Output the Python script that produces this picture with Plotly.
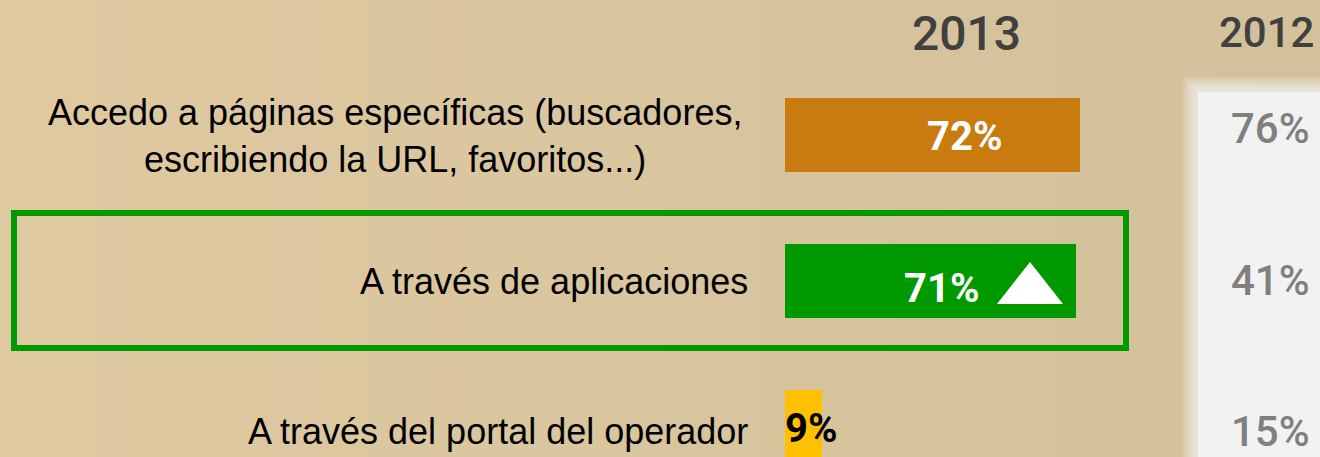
import plotly.graph_objects as go

# ---------------- data ----------------
categories = [
    "Accedo a páginas específicas (buscadores,<br>escribiendo la URL, favoritos...)",
    "A través de aplicaciones",
    "A través del portal del operador",
]
values_2013 = [72, 71, 9]
values_2012 = [76, 41, 15]
year_labels = ["2013", "2012"]
bar_colors = ["#c97b10", "#009900", "#ffc000"]
bar_text_colors = ["white", "white", "black"]

# ---------------- geometry helpers ----------------
W, H = 1320, 457
PX_PER_PCT = 4.1
X0_PX = 785          # pixel where value 0 sits
ROW0_PX, ROW_STEP = 135, 146

def px(xp):  # pixel -> paper x
    return xp / W

def py(yp):  # pixel -> paper y
    return 1 - yp / H

xr = [-X0_PX / PX_PER_PCT, (W - X0_PX) / PX_PER_PCT]
yr = [(H - ROW0_PX) / ROW_STEP, -ROW0_PX / ROW_STEP]

idx = list(range(len(categories)))

fig = go.Figure()
fig.add_trace(go.Bar(
    x=values_2013, y=idx, base=0, orientation="h",
    marker=dict(color=bar_colors, line=dict(width=0)),
    width=74 / ROW_STEP, hoverinfo="skip", showlegend=False,
))

shapes = []
# background gradient strips
c_left = (223, 201, 161)
c_right = (210, 193, 155)
N = 40
for i in range(N):
    t = i / (N - 1)
    c = tuple(int(round(c_left[k] + (c_right[k] - c_left[k]) * t)) for k in range(3))
    shapes.append(dict(type="rect", xref="paper", yref="paper", x0=i / N, x1=(i + 1) / N + 0.002,
                       y0=0, y1=1, fillcolor="rgb(%d,%d,%d)" % c, line=dict(width=0), layer="below"))

# right light panel with soft edge
for k in range(8):
    off = 12 - 2 * k
    shapes.append(dict(type="rect", xref="paper", yref="paper",
                       x0=px(1195 - off), x1=1.01, y0=-0.01, y1=py(89 - off),
                       fillcolor="rgba(242,242,242,0.16)", line=dict(width=0), layer="below"))
shapes.append(dict(type="rect", xref="paper", yref="paper",
                   x0=px(1198), x1=1.01, y0=-0.01, y1=py(92),
                   fillcolor="#f2f2f2", line=dict(width=0), layer="below"))

# green highlight frame
shapes.append(dict(type="rect", xref="paper", yref="paper",
                   x0=px(14), x1=px(1126), y0=py(348), y1=py(213),
                   line=dict(color="#009900", width=6), fillcolor="rgba(0,0,0,0)"))

# white up-triangle in the green bar
tri = "M %f %f L %f %f L %f %f Z" % (px(997), py(304), px(1063), py(304), px(1030), py(262))
shapes.append(dict(type="path", xref="paper", yref="paper", path=tri,
                   fillcolor="white", line=dict(width=0)))

annotations = []
LABEL_FONT = "Liberation Sans, Arial, sans-serif"
NUM_FONT = "Roboto, Arial, sans-serif"

# category labels
label_cfg = [dict(x=-390 / PX_PER_PCT, xanchor="center", align="center", yshift=-1),
             dict(x=-35 / PX_PER_PCT, xanchor="right", align="right", yshift=0),
             dict(x=-35 / PX_PER_PCT, xanchor="right", align="right", yshift=-4)]
for i, cat in enumerate(categories):
    cfg = label_cfg[i]
    annotations.append(dict(
        x=cfg["x"], y=i, xref="x", yref="y", text=cat, showarrow=False,
        xanchor=cfg["xanchor"], align=cfg["align"], yshift=cfg["yshift"],
        font=dict(family=LABEL_FONT, size=36, color="#000000"),
    ))

# 2013 value labels
val_shift = [-76, -95, 0]
for i, v in enumerate(values_2013):
    if i == 2:
        annotations.append(dict(x=0, y=i, xref="x", yref="y", text="%d%%" % v, showarrow=False,
                                xanchor="left", yshift=-1, xshift=-2,
                                font=dict(family=NUM_FONT, size=40, color=bar_text_colors[i], weight="bold")))
    else:
        annotations.append(dict(x=v, y=i, xref="x", yref="y", text="%d%%" % v, showarrow=False,
                                xanchor="right", xshift=val_shift[i], yshift=-1 if i == 0 else -7,
                                font=dict(family=NUM_FONT, size=40, color=bar_text_colors[i], weight="bold")))

# 2012 values
y2012_shift = [7, 1, -4]
for i, v in enumerate(values_2012):
    annotations.append(dict(x=px(1270), y=i, xref="paper", yref="y", text="%d%%" % v, showarrow=False,
                            xanchor="center", yshift=y2012_shift[i],
                            font=dict(family=NUM_FONT, size=42, color="#808080", weight=500)))

# year headers
annotations.append(dict(x=px(966), y=py(33), xref="paper", yref="paper", text=year_labels[0],
                        showarrow=False, xanchor="center", yanchor="middle",
                        font=dict(family=NUM_FONT, size=48, color="#404040", weight=500)))
annotations.append(dict(x=px(1266), y=py(32), xref="paper", yref="paper", text=year_labels[1],
                        showarrow=False, xanchor="center", yanchor="middle",
                        font=dict(family=NUM_FONT, size=42, color="#404040", weight=500)))

fig.update_layout(
    width=W, height=H,
    margin=dict(l=0, r=0, t=0, b=0),
    paper_bgcolor="#d9c59e", plot_bgcolor="#d9c59e",
    xaxis=dict(range=xr, visible=False, fixedrange=True),
    yaxis=dict(range=yr, visible=False, fixedrange=True),
    shapes=shapes, annotations=annotations,
    bargap=0,
)

fig.write_html("out.html", config={"displayModeBar": False},
               post_script="document.body.style.margin='0';document.body.style.overflow='hidden';")
